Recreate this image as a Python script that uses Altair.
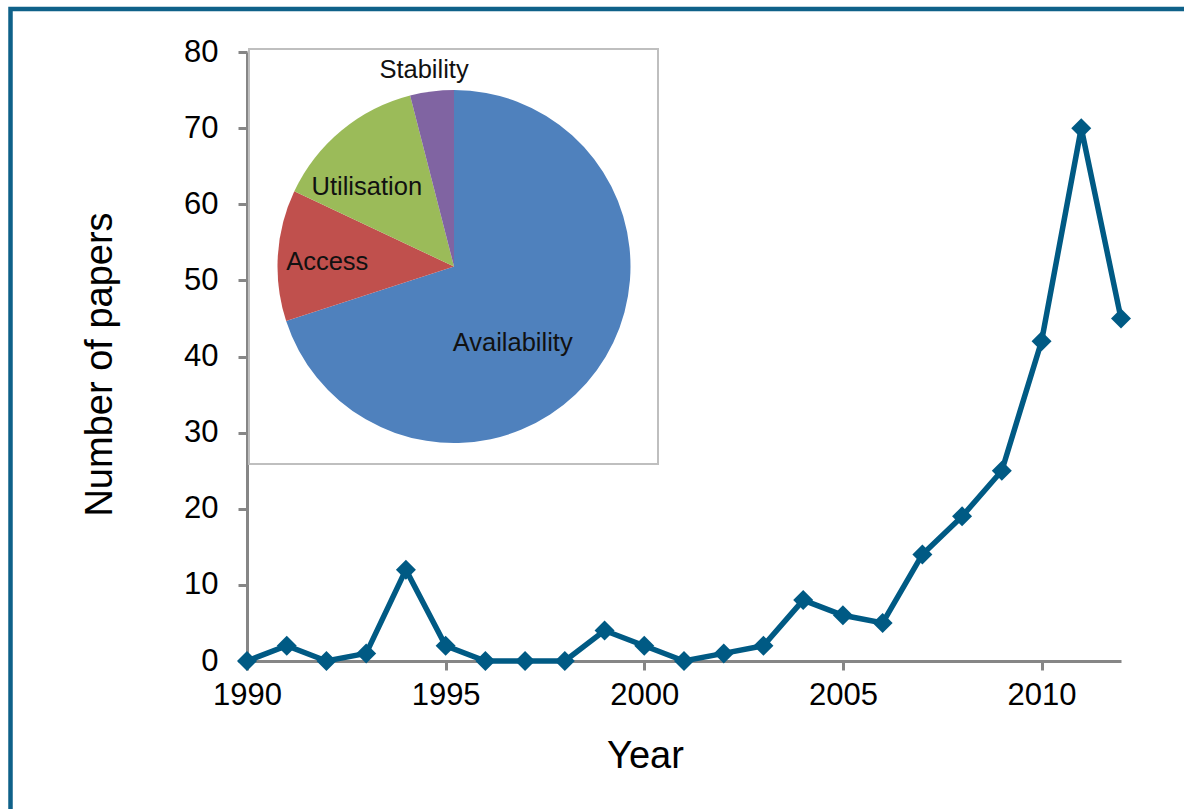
import altair as alt
import pandas as pd

# Publications per year
years = [1990, 1991, 1992, 1993, 1994, 1995, 1996, 1997, 1998, 1999, 2000, 2001,
         2002, 2003, 2004, 2005, 2006, 2007, 2008, 2009, 2010, 2011, 2012]
papers = [0, 2, 0, 1, 12, 2, 0, 0, 0, 4, 2, 0, 1, 2, 8, 6, 5, 14, 19, 25, 42, 70, 45]

# Share of papers by food-security theme (inset pie)
themes = ["Availability", "Access", "Utilisation", "Stability"]
shares = [70, 12, 14, 4]
theme_colors = ["#4F81BD", "#C0504D", "#9BBB59", "#8064A2"]

x_ticks = [1990, 1995, 2000, 2005, 2010]
y_ticks = [0, 10, 20, 30, 40, 50, 60, 70, 80]

FONT = "Liberation Sans"
LINE_COLOR = "#005A84"
FRAME_COLOR = "#0F6189"
AXIS_GREY = "#868686"

W, H = 874, 609
PIE_CX, PIE_CY, PIE_R = 207, 214.5, 176.5

series = pd.DataFrame({"Year": years, "Papers": papers})
pie = pd.DataFrame({"Theme": themes, "Share": shares, "Rank": list(range(len(themes)))})
one = pd.DataFrame({"k": [0]})

x_enc = alt.X(
    "Year:Q",
    scale=alt.Scale(domain=[1990, 2012], nice=False, zero=False),
    axis=alt.Axis(values=x_ticks, format="d", title="Year", grid=False,
                  labelFlush=False, labelPadding=10, titleX=398, titleY=106,
                  titleAlign="center", titleBaseline="alphabetic"),
)
y_enc = alt.Y(
    "Papers:Q",
    scale=alt.Scale(domain=[0, 80], nice=False),
    axis=alt.Axis(values=y_ticks, title="Number of papers", grid=False,
                  labelFlush=False, labelPadding=20, titleX=-136, titleY=312,
                  titleAngle=-90, titleAlign="center", titleBaseline="alphabetic"),
)

# Outer frame round the figure
frame = alt.Chart(one).mark_rect(
    fill=None, stroke=FRAME_COLOR, strokeWidth=4.5
).encode(
    x=alt.value(-236.5), x2=alt.value(W + 120),
    y=alt.value(-43), y2=alt.value(H + 200),
)

# Inset panel holding the pie
box = alt.Chart(one).mark_rect(
    fill="white", stroke="#BFBFBF", strokeWidth=2
).encode(
    x=alt.value(2), x2=alt.value(411),
    y=alt.value(-3), y2=alt.value(412),
)

theta_scale = alt.Scale(domain=[0, 100])

arcs = alt.Chart(pie).mark_arc(outerRadius=PIE_R).encode(
    theta=alt.Theta("Share:Q", stack=True, scale=theta_scale),
    order=alt.Order("Rank:Q"),
    color=alt.Color("Theme:N", scale=alt.Scale(domain=themes, range=theme_colors),
                    legend=None),
    x=alt.value(PIE_CX),
    y=alt.value(PIE_CY),
)

label_base = alt.Chart(pie).transform_window(
    cum="sum(Share)", sort=[alt.SortField("Rank")], frame=[None, 0]
).transform_calculate(mid="datum.cum - datum.Share / 2")

# radius and nudges of each slice label
label_style = {
    "Availability": (96, -19, 20),
    "Access": (127, 0, 3.5),
    "Utilisation": (118, -12, 11.5),
    "Stability": (199, -5, 1),
}

labels = []
for name in themes:
    r, ddx, ddy = label_style[name]
    labels.append(
        label_base.transform_filter(alt.datum.Theme == name).mark_text(
            radius=r, dx=ddx, dy=ddy, font=FONT, fontSize=25.5, color="#111111",
            align="center", baseline="middle",
        ).encode(
            theta=alt.Theta("mid:Q", stack=None, scale=theta_scale),
            text="Theme:N",
            x=alt.value(PIE_CX),
            y=alt.value(PIE_CY),
        )
    )

line = alt.Chart(series).mark_line(color=LINE_COLOR, strokeWidth=5.5).encode(
    x=x_enc, y=y_enc
)
points = alt.Chart(series).mark_point(
    shape="diamond", filled=True, size=400, opacity=1, color=LINE_COLOR
).encode(x="Year:Q", y="Papers:Q")

chart = alt.layer(frame, box, arcs, *labels, line, points).properties(
    width=W,
    height=H,
    autosize=alt.AutoSizeParams(type="none"),
    padding={"left": 247, "top": 52, "right": 63, "bottom": 148},
    background="white",
).configure_view(
    stroke=None
).configure_axis(
    domainColor=AXIS_GREY, domainWidth=3,
    tickColor=AXIS_GREY, tickWidth=3, tickSize=9,
    labelFont=FONT, labelFontSize=31, labelColor="black",
    titleFont=FONT, titleFontSize=38, titleFontWeight="normal", titleColor="black",
)

chart.save("out.html", embed_options={"renderer": "svg", "actions": False})
